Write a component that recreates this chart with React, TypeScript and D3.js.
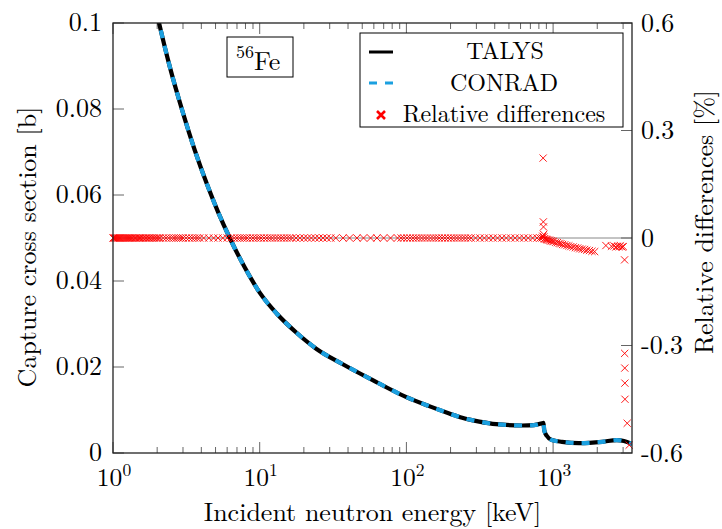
import React from "react";
import * as d3 from "d3";

// ---- Data ----
// Capture cross section (b) vs incident neutron energy (keV)
const csEnergy = [1.79, 2.06, 2.44, 2.95, 3.61, 4.36, 5.18, 6.25, 7.9, 10, 13, 17.9, 24.4, 36.6, 58.5, 100, 143, 196, 240, 314, 409, 615, 740, 842, 860, 870, 905, 980, 1150, 1500, 2160, 2720, 3040, 3450];
const csTalys = [0.1092, 0.1, 0.0898, 0.0799, 0.0704, 0.0626, 0.0562, 0.05, 0.0432, 0.0373, 0.0325, 0.0279, 0.0242, 0.0207, 0.017, 0.013, 0.0109, 0.0092, 0.0082, 0.0073, 0.0067, 0.0064, 0.0065, 0.0069, 0.007, 0.0053, 0.004, 0.003, 0.0026, 0.0023, 0.0026, 0.003, 0.0028, 0.0021];
const csConrad = [0.1092, 0.1, 0.0898, 0.0799, 0.0704, 0.0626, 0.0562, 0.05, 0.0432, 0.0373, 0.0325, 0.0279, 0.0242, 0.0207, 0.017, 0.013, 0.0109, 0.0092, 0.0082, 0.0073, 0.0067, 0.0064, 0.0065, 0.0069, 0.007, 0.0053, 0.004, 0.003, 0.0026, 0.0023, 0.0026, 0.003, 0.0028, 0.0021];

// Energies (keV) where the relative difference is 0 %
const relZeroEnergy = [
  1.0, 1.015, 1.03, 1.045, 1.06, 1.075, 1.09, 1.105, 1.12, 1.14, 1.16, 1.18, 1.2, 1.22, 1.24, 1.26, 1.28, 1.3, 1.32, 1.35, 1.38, 1.41, 1.44, 1.47, 1.5, 1.53, 1.56, 1.6, 1.64, 1.68, 1.72, 1.76, 1.8, 1.85, 1.9, 1.95, 2.0, 2.05, 2.1,
  2.2, 2.3, 2.4, 2.5, 2.6, 2.7, 2.8, 2.9, 3.0, 3.15, 3.3, 3.45, 3.6, 3.75, 3.9,
  4.15, 4.5, 4.85, 5.2, 5.6, 6.0, 6.4,
  6.7, 7.0, 7.3, 7.6, 7.9, 8.2, 8.6, 9.0, 9.4, 9.8, 10.2, 10.7, 11.2, 11.7, 12.2, 12.8, 13.4, 14.0, 14.6, 15.3, 16.0, 16.7,
  17.7, 18.8, 20, 21.2, 22.5, 23.9, 25.4, 27, 28.7, 30.5,
  33, 37, 41, 46, 51, 57, 63, 70, 78, 87,
  92, 96, 101, 106, 111, 116, 121, 127, 133, 139, 146, 153, 160,
  167, 175, 183, 192, 201, 210, 220, 230, 241, 252, 264,
  276, 296, 317, 340, 364, 390, 418, 448, 480, 514, 551, 590, 632, 677, 725, 777, 815, 840,
];
// Non-zero relative differences (%)
const relEnergy = [
  850, 855, 858, 860, 862, 865,
  870, 885, 900, 915, 930, 950, 970, 990, 1010, 1040, 1070, 1100, 1130, 1160, 1200, 1240, 1280, 1320, 1370, 1420, 1470, 1520, 1580, 1640, 1700, 1770, 1840, 1920,
  2290, 2500, 2600, 2680, 2750, 2820, 2880, 2950, 3010,
  3070, 3075, 3080, 3085, 3090, 3200, 3300,
];
const relValue = [
  0.005, 0.223, 0.045, 0.031, 0.01, 0.003,
  -0.002, -0.003, -0.004, -0.005, -0.006, -0.007, -0.008, -0.009, -0.01, -0.012, -0.013, -0.015, -0.016, -0.018, -0.019, -0.021, -0.022, -0.024, -0.025, -0.027, -0.028, -0.03, -0.031, -0.032, -0.034, -0.035, -0.037, -0.038,
  -0.021, -0.023, -0.022, -0.025, -0.023, -0.024, -0.022, -0.025, -0.024,
  -0.061, -0.322, -0.363, -0.405, -0.45, -0.517, -0.578,
];

const xMajorTicks = [1, 10, 100, 1000];
const xMinorTicks = [2, 3, 4, 5, 6, 7, 8, 9, 20, 30, 40, 50, 60, 70, 80, 90, 200, 300, 400, 500, 600, 700, 800, 900, 2000, 3000];
const yLeftTicks = [0, 0.02, 0.04, 0.06, 0.08, 0.1];
const yLeftLabels = ["0", "0.02", "0.04", "0.06", "0.08", "0.1"];
const yRightTicks = [-0.6, -0.3, 0, 0.3, 0.6];
const yRightLabels = ["-0.6", "-0.3", "0", "0.3", "0.6"];
const legendLabels = ["TALYS", "CONRAD", "Relative differences"];

const FONT = "'Latin Modern Roman', serif";
const BLUE = "#1ba0e0";
const RED = "#ff0000";

export default function App() {
  const L = 113, R = 632, T = 23, B = 453;
  const x = d3.scaleLog().domain([1, 3450]).range([L, R]);
  const yL = d3.scaleLinear().domain([0, 0.1]).range([B, T]);
  const yR = d3.scaleLinear().domain([-0.6, 0.6]).range([B, T]);

  const talys = csEnergy.map((e, i) => [e, csTalys[i]] as [number, number]);
  const conrad = csEnergy.map((e, i) => [e, csConrad[i]] as [number, number]);
  const line = d3
    .line<[number, number]>()
    .x((d) => x(d[0]))
    .y((d) => yL(d[1]))
    .curve(d3.curveMonotoneX);

  const s = 3.6;
  const cross = (cx: number, cy: number, k: string) => (
    <path key={k} d={`M${cx - s},${cy - s}L${cx + s},${cy + s}M${cx - s},${cy + s}L${cx + s},${cy - s}`} stroke={RED} strokeWidth={0.9} fill="none" />
  );

  const major = 11, minor = 6;
  const tickColor = "#666";
  const tstyle = { fontFamily: FONT };

  return (
    <svg width={722} height={529} style={{ position: "absolute", left: 0, top: 0, background: "#fff" }}>
      <defs>
        <clipPath id="plotclip">
          <rect x={L} y={T} width={R - L} height={B - T} />
        </clipPath>
      </defs>
      <rect x={0} y={0} width={722} height={529} fill="#fff" />

      {/* zero line of right axis */}
      <line x1={L} x2={R} y1={yR(0)} y2={yR(0)} stroke="#888" strokeWidth={1} />

      {/* ticks */}
      {xMajorTicks.map((t) => (
        <g key={"xM" + t}>
          <line x1={x(t)} x2={x(t)} y1={B} y2={B - major} stroke={tickColor} strokeWidth={1} />
          <line x1={x(t)} x2={x(t)} y1={T} y2={T + major} stroke={tickColor} strokeWidth={1} />
        </g>
      ))}
      {xMinorTicks.map((t) => (
        <g key={"xm" + t}>
          <line x1={x(t)} x2={x(t)} y1={B} y2={B - minor} stroke={tickColor} strokeWidth={1} />
          <line x1={x(t)} x2={x(t)} y1={T} y2={T + minor} stroke={tickColor} strokeWidth={1} />
        </g>
      ))}
      {yLeftTicks.map((t) => (
        <line key={"yl" + t} x1={L} x2={L + major} y1={yL(t)} y2={yL(t)} stroke={tickColor} strokeWidth={1} />
      ))}
      {yRightTicks.map((t) => (
        <line key={"yr" + t} x1={R} x2={R - major} y1={yR(t)} y2={yR(t)} stroke={tickColor} strokeWidth={1} />
      ))}

      {/* curves */}
      <g clipPath="url(#plotclip)">
        <path d={line(talys) || ""} fill="none" stroke="#000" strokeWidth={4.2} />
        <path d={line(conrad) || ""} fill="none" stroke={BLUE} strokeWidth={4.2} strokeDasharray="8,8" />
      </g>

      {/* relative differences */}
      <g>
        {relZeroEnergy.map((e, i) => cross(x(e), yR(0), "z" + i))}
        {relEnergy.map((e, i) => cross(x(e), yR(relValue[i]), "r" + i))}
      </g>

      {/* frame */}
      <rect x={L} y={T} width={R - L} height={B - T} fill="none" stroke="#222" strokeWidth={1.3} />

      {/* x tick labels */}
      {xMajorTicks.map((t, i) => (
        <text key={"xl" + t} x={x(t) + 1} y={486} textAnchor="middle" fontSize={25.5} fill="#000" style={tstyle}>
          10
          <tspan dy={-10.5} fontSize={17.5}>{String(i)}</tspan>
        </text>
      ))}
      {/* left y tick labels */}
      {yLeftTicks.map((t, i) => (
        <text key={"yll" + t} x={102} y={yL(t) + 7.5} textAnchor="end" fontSize={26} fill="#000" style={tstyle}>
          {yLeftLabels[i]}
        </text>
      ))}
      {/* right y tick labels */}
      {yRightTicks.map((t, i) => (
        <text key={"yrl" + t} x={641} y={yR(t) + 8.5} textAnchor="start" fontSize={26} fill="#000" style={tstyle}>
          {yRightLabels[i]}
        </text>
      ))}

      {/* axis titles */}
      <text x={(L + R) / 2} y={521} textAnchor="middle" fontSize={26} style={tstyle}>
        Incident neutron energy [keV]
      </text>
      <text transform="translate(36,247) rotate(-90)" textAnchor="middle" fontSize={26} style={tstyle}>
        Capture cross section [b]
      </text>
      <text transform="translate(713,222) rotate(-90)" textAnchor="middle" fontSize={26} style={tstyle}>
        Relative differences [%]
      </text>

      {/* 56Fe label */}
      <rect x={227} y={37} width={66} height={40} fill="#fff" stroke="#000" strokeWidth={1} />
      <text x={236} y={70} fontSize={26} style={tstyle}>
        <tspan fontSize={18} dy={-12}>56</tspan>
        <tspan dy={12}>Fe</tspan>
      </text>

      {/* legend */}
      <rect x={360} y={33} width={263} height={94} fill="#fff" stroke="#000" strokeWidth={1} />
      <line x1={369} x2={393} y1={52} y2={52} stroke="#000" strokeWidth={3} />
      <line x1={369} x2={393} y1={83} y2={83} stroke={BLUE} strokeWidth={3} strokeDasharray="8,8" />
      <path d={`M${377},${111}L${385},${119}M${377},${119}L${385},${111}`} stroke={RED} strokeWidth={2.6} />
      <text x={505} y={59} textAnchor="middle" fontSize={24} style={tstyle}>{legendLabels[0]}</text>
      <text x={504} y={91} textAnchor="middle" fontSize={24} style={tstyle}>{legendLabels[1]}</text>
      <text x={504} y={122} textAnchor="middle" fontSize={24} style={tstyle}>{legendLabels[2]}</text>
    </svg>
  );
}
